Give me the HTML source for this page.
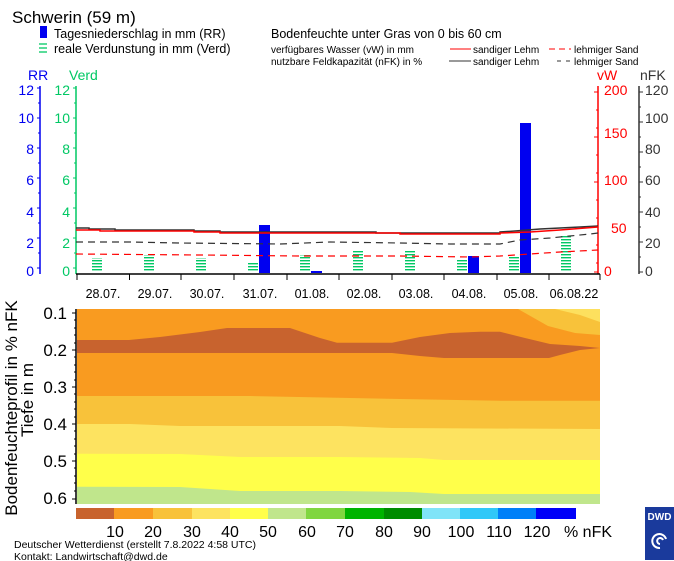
<!DOCTYPE html>
<html><head><meta charset="utf-8"><style>
html,body{margin:0;padding:0;background:#fff;}
svg{display:block;font-family:"Liberation Sans",sans-serif;}
</style></head><body>
<svg width="674" height="561" viewBox="0 0 674 561" xmlns="http://www.w3.org/2000/svg">
<rect width="674" height="561" fill="#fff"/>
<!-- header -->
<text x="12" y="23" font-size="17" fill="#000">Schwerin (59 m)</text>
<rect x="40" y="26" width="7" height="12" fill="#0000f0"/>
<text x="54" y="38" font-size="12.5">Tagesniederschlag in mm (RR)</text>
<g stroke="#00c864" stroke-width="1.3"><line x1="39" y1="44" x2="47" y2="44"/><line x1="39" y1="48" x2="47" y2="48"/><line x1="39" y1="52" x2="47" y2="52"/></g>
<text x="54" y="53" font-size="12.5">reale Verdunstung in mm (Verd)</text>
<text x="271" y="38" font-size="12.5">Bodenfeuchte unter Gras von 0 bis 60 cm</text>
<text x="271" y="53" font-size="10">verfügbares Wasser (vW) in mm</text>
<line x1="450" y1="49" x2="471" y2="49" stroke="#f00"/>
<text x="473" y="53" font-size="10">sandiger Lehm</text>
<line x1="549" y1="49" x2="571" y2="49" stroke="#f00" stroke-dasharray="6,4"/>
<text x="574" y="53" font-size="10">lehmiger Sand</text>
<text x="271" y="65" font-size="10">nutzbare Feldkapazität (nFK) in %</text>
<line x1="449" y1="61" x2="471" y2="61" stroke="#333"/>
<text x="473" y="65" font-size="10">sandiger Lehm</text>
<line x1="557" y1="61" x2="571" y2="61" stroke="#333" stroke-dasharray="4,5"/>
<text x="574" y="65" font-size="10">lehmiger Sand</text>
<text x="28" y="80" font-size="14" fill="#0000f0">RR</text>
<text x="69" y="80" font-size="14" fill="#00c864">Verd</text>
<text x="597" y="80" font-size="14" fill="#f00">vW</text>
<text x="640" y="80" font-size="14" fill="#333">nFK</text>

<!-- upper axes -->
<line x1="40" y1="86" x2="40" y2="274" stroke="#0000f0" stroke-width="1.5"/>
<line x1="76" y1="86" x2="76" y2="274" stroke="#00c864" stroke-width="1.5"/>
<line x1="598" y1="86" x2="598" y2="274" stroke="#f00" stroke-width="1.5"/>
<line x1="639" y1="86" x2="639" y2="274" stroke="#333" stroke-width="1.5"/>
<g font-size="14" text-anchor="end" fill="#0000f0">
<text x="34" y="95">12</text><text x="34" y="123">10</text><text x="34" y="154">8</text><text x="34" y="185">6</text><text x="34" y="217">4</text><text x="34" y="248">2</text><text x="34" y="276">0</text></g>
<g font-size="14" text-anchor="end" fill="#00c864">
<text x="70" y="95">12</text><text x="70" y="123">10</text><text x="70" y="154">8</text><text x="70" y="185">6</text><text x="70" y="217">4</text><text x="70" y="248">2</text><text x="70" y="276">0</text></g>
<g font-size="14" fill="#f00">
<text x="604" y="95">200</text><text x="604" y="138">150</text><text x="604" y="185">100</text><text x="611" y="233">50</text><text x="604" y="276">0</text></g>
<g font-size="14" fill="#333">
<text x="645" y="95">120</text><text x="645" y="123">100</text><text x="645" y="154">80</text><text x="645" y="185">60</text><text x="645" y="217">40</text><text x="645" y="248">20</text><text x="645" y="276">0</text></g>
<g stroke-width="1">
<path d="M40,88h-3M40,103h-2M40,118h-3M40,133h-2M40,148h-3M40,163h-2M40,178h-3M40,193h-2M40,208h-3M40,223h-2M40,238h-3M40,253h-2M40,268h-3" stroke="#0000f0"/>
<path d="M76,88h-3M76,103h-2M76,118h-3M76,133h-2M76,148h-3M76,163h-2M76,178h-3M76,193h-2M76,208h-3M76,223h-2M76,238h-3M76,253h-2M76,268h-3" stroke="#00c864"/>
<path d="M598,92h-4M598,110h-2M598,128h-2M598,137h-4M598,155h-2M598,173h-2M598,182h-4M598,200h-2M598,218h-2M598,227h-4M598,245h-2M598,263h-2M598,272h-4" stroke="#f00"/>
<path d="M639,92h4M639,107h2M639,122h4M639,137h2M639,152h4M639,167h2M639,182h4M639,197h2M639,212h4M639,227h2M639,242h4M639,257h2M639,272h4" stroke="#333"/>
</g>
<line x1="76" y1="274" x2="600" y2="274" stroke="#000" stroke-width="1.5"/>
<path d="M77,274v6M129.5,274v6M181,274v6M234,274v6M287,274v6M339,274v6M392,274v6M444,274v6M497,274v6M549,274v6M600,274v6" stroke="#000"/>

<!-- evaporation hatched bars -->
<defs><pattern id="h" width="10" height="3" patternUnits="userSpaceOnUse" y="272"><rect width="10" height="1.4" fill="#00c864"/></pattern></defs>
<g fill="url(#h)">
<rect x="92" y="258" width="10" height="14"/>
<rect x="144" y="255" width="10" height="17"/>
<rect x="196" y="258" width="10" height="14"/>
<rect x="248" y="262" width="10" height="10"/>
<rect x="300" y="255" width="10" height="17"/>
<rect x="353" y="251" width="10" height="21"/>
<rect x="405" y="251" width="10" height="21"/>
<rect x="457" y="260" width="10" height="12"/>
<rect x="509" y="257" width="10" height="15"/>
<rect x="561" y="236" width="10" height="36"/>
</g>
<!-- precipitation bars -->
<g fill="#0000f0">
<rect x="259" y="225" width="11" height="48"/>
<rect x="311" y="271" width="11" height="2"/>
<rect x="468" y="256" width="11" height="17"/>
<rect x="520" y="123" width="11" height="150"/>
</g>
<!-- lines -->
<polyline fill="none" stroke="#333" stroke-width="1.5" points="76,228 89,228 89,229 115,229 115,230 194,230 194,231 220,231 220,232 376,232 376,233 500,233 500,232 515,231 540,229 560,228 580,227 598,226"/>
<polyline fill="none" stroke="#f00" stroke-width="1.5" points="76,230 100,230 100,231 194,231 194,232 220,232 220,233 400,233 400,234 500,234 500,233 530,232 560,230 598,227"/>
<polyline fill="none" stroke="#333" stroke-width="1.2" stroke-dasharray="7,5" points="76,242 130,242 180,243 280,244 330,242 400,243 450,244 500,244 520,240 550,238 570,236 590,234 598,233"/>
<polyline fill="none" stroke="#f00" stroke-width="1.2" stroke-dasharray="7,5" points="76,254 200,255 300,256 400,256 470,257 500,256 530,254 560,252 598,250"/>
<!-- dates -->
<g font-size="12.5" text-anchor="middle">
<text x="103" y="298">28.07.</text><text x="155" y="298">29.07.</text><text x="207" y="298">30.07.</text><text x="260" y="298">31.07.</text><text x="312" y="298">01.08.</text><text x="364" y="298">02.08.</text><text x="416" y="298">03.08.</text><text x="469" y="298">04.08.</text><text x="521" y="298">05.08.</text><text x="574" y="298">06.08.22</text></g>

<!-- lower contour plot -->
<rect x="77" y="309" width="523" height="195" fill="#f99b20"/>
<polygon fill="#f8c23a" points="518,309 600,309 600,335 575,333 548,326"/>
<polygon fill="#fde05e" points="555,309 600,309 600,322 580,315"/>
<polygon fill="#c8632e" points="77,340 129,340 160,337 200,332 227,328 290,328 320,338 337,342.7 392,342.7 420,337 450,333 480,331.7 500,331.7 525,338 550,344 580,346 600,348 580,350 560,355 549,358 500,358 444,358 420,356 392,353 77,353"/>
<polygon fill="#f8c23a" points="77,396 250,396 400,399 500,400.7 600,400.7 600,504 77,504"/>
<polygon fill="#fde360" points="77,424 130,424 180,426 340,426 392,428 600,429 600,504 77,504"/>
<polygon fill="#ffff4a" points="77,453.7 180,454 240,457 340,457 420,458 444,460 600,460 600,504 77,504"/>
<polygon fill="#c0e68c" points="77,486.7 180,487 210,489 240,491 340,491 410,492 444,494 600,494 600,504 77,504"/>
<line x1="76" y1="309" x2="76" y2="504" stroke="#000" stroke-width="1.5"/>
<path d="M76,313h-4M76,320h-2M76,328h-2M76,335h-2M76,343h-2M76,350h-4M76,357h-2M76,365h-2M76,372h-2M76,380h-2M76,387h-4M76,394h-2M76,402h-2M76,409h-2M76,417h-2M76,424h-4M76,431h-2M76,439h-2M76,446h-2M76,454h-2M76,461h-4M76,468h-2M76,476h-2M76,483h-2M76,491h-2M76,499h-4" stroke="#000"/>
<g font-size="17" text-anchor="end">
<text x="67" y="319">0.1</text><text x="67" y="356">0.2</text><text x="67" y="393">0.3</text><text x="67" y="430">0.4</text><text x="67" y="467">0.5</text><text x="67" y="504">0.6</text></g>
<text transform="translate(17,408) rotate(-90)" font-size="17" text-anchor="middle">Bodenfeuchteprofil in % nFK</text>
<text transform="translate(33,400) rotate(-90)" font-size="17" text-anchor="middle">Tiefe in m</text>

<!-- colorbar -->
<g>
<rect x="76" y="508" width="39" height="11" fill="#c8632e"/>
<rect x="114" y="508" width="39" height="11" fill="#f99b20"/>
<rect x="153" y="508" width="39" height="11" fill="#f8c23a"/>
<rect x="192" y="508" width="39" height="11" fill="#fde360"/>
<rect x="230" y="508" width="39" height="11" fill="#ffff4a"/>
<rect x="268" y="508" width="39" height="11" fill="#c0e68c"/>
<rect x="306" y="508" width="40" height="11" fill="#80d640"/>
<rect x="345" y="508" width="39" height="11" fill="#00b400"/>
<rect x="384" y="508" width="38" height="11" fill="#008c00"/>
<rect x="422" y="508" width="39" height="11" fill="#80e4f8"/>
<rect x="460" y="508" width="39" height="11" fill="#30c8f8"/>
<rect x="498" y="508" width="39" height="11" fill="#0080f8"/>
<rect x="536" y="508" width="40" height="11" fill="#0000f8"/>
</g>
<g font-size="16" text-anchor="middle">
<text x="115" y="537">10</text><text x="153" y="537">20</text><text x="192" y="537">30</text><text x="230" y="537">40</text><text x="268" y="537">50</text><text x="307" y="537">60</text><text x="345" y="537">70</text><text x="384" y="537">80</text><text x="422" y="537">90</text><text x="461" y="537">100</text><text x="499" y="537">110</text><text x="537" y="537">120</text></g>
<text x="564" y="537" font-size="16">% nFK</text>
<text x="14" y="548" font-size="10.5">Deutscher Wetterdienst (erstellt 7.8.2022 4:58 UTC)</text>
<text x="14" y="560" font-size="10.5">Kontakt: Landwirtschaft@dwd.de</text>
<!-- DWD logo -->
<rect x="645" y="507" width="29" height="53" fill="#1a3a9c"/>
<text x="659.5" y="520" font-size="10" font-weight="bold" fill="#fff" text-anchor="middle">DWD</text>
<path d="M660,548 a7,7 0 1,1 6,-9 M660,544 a3,3 0 1,1 3,-4" fill="none" stroke="#fff" stroke-width="2"/>
</svg>
</body></html>
